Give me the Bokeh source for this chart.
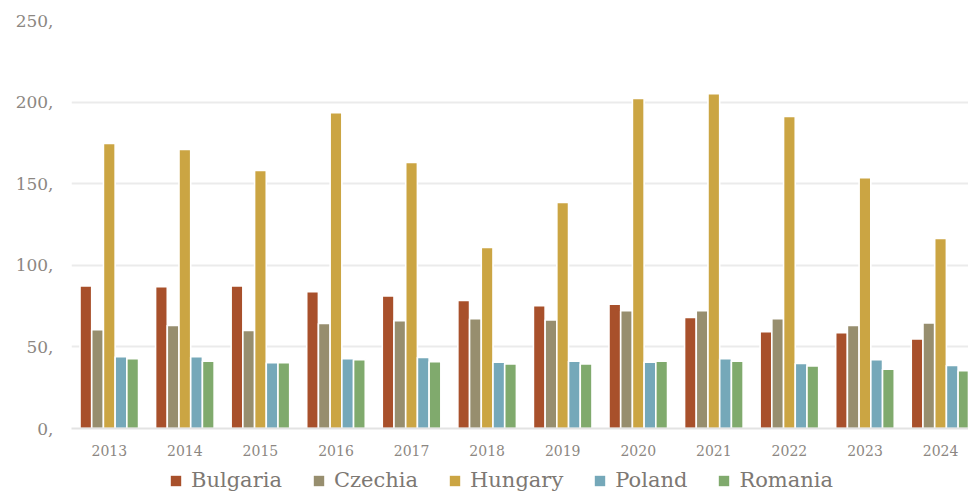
from bokeh.plotting import figure
from bokeh.layouts import column
from bokeh.models import ColumnDataSource, Range1d, FixedTicker, Legend, LegendItem
from bokeh.transform import dodge
from bokeh.embed import file_html
from bokeh.resources import INLINE

years = ["2013", "2014", "2015", "2016", "2017", "2018", "2019", "2020", "2021", "2022", "2023", "2024"]
bulgaria = [87.4, 86.9, 87.4, 83.9, 81.2, 78.5, 75.3, 76.1, 68.1, 59.3, 58.7, 54.8]
czechia = [60.6, 63.2, 60.1, 64.4, 66.1, 67.3, 66.5, 72.2, 72.2, 67.3, 63.2, 64.7]
hungary = [174.7, 171.0, 158.1, 193.5, 163.0, 111.0, 138.5, 202.3, 205.2, 191.2, 153.6, 116.4]
poland = [44.0, 44.0, 40.3, 42.8, 43.6, 40.7, 41.3, 40.7, 42.8, 39.9, 42.1, 38.7]
romania = [42.8, 41.3, 40.3, 42.1, 40.9, 39.5, 39.5, 41.3, 41.3, 38.3, 36.4, 35.4]
series_names = ["Bulgaria", "Czechia", "Hungary", "Poland", "Romania"]
y_ticks = [0, 50, 100, 150, 200, 250]
y_tick_labels = ["0,", "50,", "100,", "150,", "200,", "250,"]

colors = ["#A8502B", "#978E6E", "#CBA543", "#75A8B9", "#80AA6D"]
FONT = "DejaVu Serif"
TXT = "#8c8782"

idx = list(range(len(years)))
source = ColumnDataSource(data=dict(x=idx, Bulgaria=bulgaria, Czechia=czechia,
                                    Hungary=hungary, Poland=poland, Romania=romania))

p = figure(width=968, height=460, output_backend="svg", toolbar_location=None,
           x_range=Range1d(-0.5, 11.37), y_range=Range1d(0, 250),
           min_border_left=71, min_border_right=0, min_border_top=20, min_border_bottom=32)
p.outline_line_color = None
p.background_fill_color = "white"
p.border_fill_color = "white"

pitch = 0.155
for i, name in enumerate(series_names):
    p.vbar(x=dodge("x", (i - 2) * pitch, range=p.x_range), top=name, width=pitch,
           source=source, fill_color=colors[i], line_color="white", line_width=1.6)

p.xgrid.grid_line_color = None
p.ygrid.grid_line_color = "#ebebeb"
p.ygrid.grid_line_width = 2
p.yaxis.ticker = FixedTicker(ticks=y_ticks)
p.yaxis.major_label_overrides = {t: l for t, l in zip(y_ticks, y_tick_labels)}
p.yaxis.axis_line_color = None
p.yaxis.major_tick_line_color = None
p.yaxis.minor_tick_line_color = None
p.yaxis.major_label_text_font = FONT
p.yaxis.major_label_text_font_size = "17px"
p.yaxis.major_label_text_color = TXT
p.yaxis.major_label_standoff = 12

p.xaxis.ticker = FixedTicker(ticks=idx)
p.xaxis.major_label_overrides = {i: y for i, y in zip(idx, years)}
p.xaxis.axis_line_color = "#e3e3e3"
p.xaxis.axis_line_width = 2
p.xaxis.major_tick_line_color = None
p.xaxis.minor_tick_line_color = None
p.xaxis.major_label_text_font = FONT
p.xaxis.major_label_text_font_size = "14px"
p.xaxis.major_label_text_color = TXT
p.xaxis.major_label_standoff = 10

# legend strip below the chart (swatches drawn by Bokeh's legend from off-screen copies of the bars)
lg = figure(width=968, height=32, output_backend="svg", toolbar_location=None,
            x_range=Range1d(0, 1), y_range=Range1d(0, 1),
            min_border_left=0, min_border_right=0, min_border_top=0, min_border_bottom=0)
lg.axis.visible = False
lg.grid.visible = False
lg.outline_line_color = None
lg.background_fill_color = "white"
lg.border_fill_color = "white"
items = []
for i, name in enumerate(series_names):
    r = lg.vbar(x=[-10], top=[-10], width=0.1, fill_color=colors[i], line_color=None)
    items.append(LegendItem(label=name, renderers=[r]))
legend = Legend(items=items, orientation="horizontal", location=(98, 0),
                glyph_width=13, glyph_height=13, label_standoff=9, spacing=30,
                label_text_font=FONT, label_text_font_size="21px", label_text_color="#7d7873",
                border_line_color=None, background_fill_alpha=0, padding=0, margin=0)
lg.add_layout(legend)

layout = column(p, lg, spacing=0)
open("out.html", "w").write(file_html(layout, INLINE))
